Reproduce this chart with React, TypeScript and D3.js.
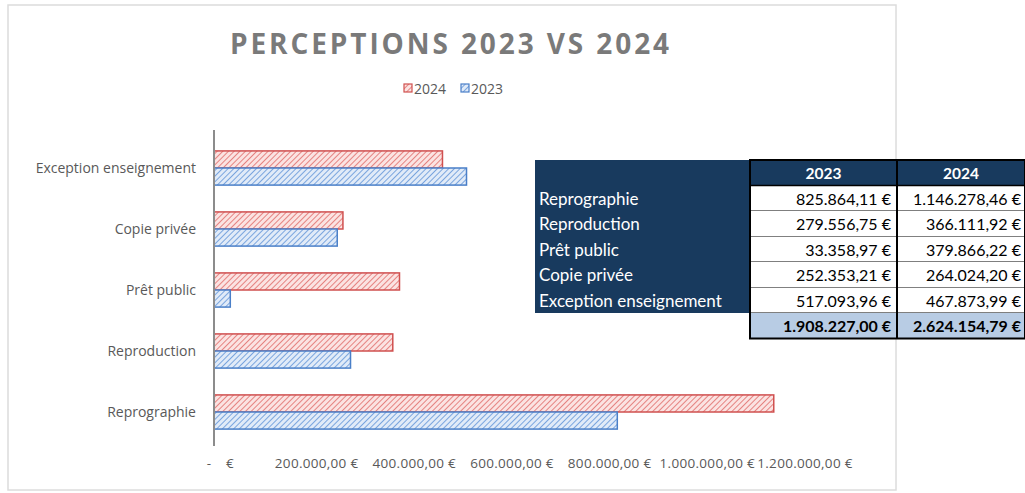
import * as d3 from "d3";

const categories = ["Exception enseignement", "Copie privée", "Prêt public", "Reproduction", "Reprographie"];
const values2024 = [467873.99, 264024.2, 379866.22, 366111.92, 1146278.46];
const values2023 = [517093.96, 252353.21, 33358.97, 279556.75, 825864.11];
const tickValues = [0, 200000, 400000, 600000, 800000, 1000000, 1200000];
// table rows are in the other order
const tableRows = ["Reprographie", "Reproduction", "Prêt public", "Copie privée", "Exception enseignement"];
const tableYears = ["2023", "2024"];

const W = 1025;
const H = 493;

const locale = d3.formatLocale({
  decimal: ",",
  thousands: ".",
  grouping: [3],
  currency: ["", " €"],
});
const fmt = locale.format(",.2f");

const RED = "#d0504f";
const BLUE = "#4a7fc8";
const NAVY = "#183a5e";
const GREY = "#595959";

export default function App() {
  const x = d3.scaleLinear().domain([0, 1200000]).range([214, 800]);
  const y = d3.scaleBand().domain(categories).range([137.5, 442.5]).paddingInner(0.44).paddingOuter(0.22);
  const half = y.bandwidth() / 2;

  // table geometry
  const tx0 = 535, tc1 = 750, tc2 = 897, tx1 = 1025;
  const ty0 = 160, rowH = 25.5;
  const byName = (name: string) => categories.indexOf(name);
  const totals = [d3.sum(values2023), d3.sum(values2024)];

  return (
    <svg width={W} height={H} style={{ position: "absolute", left: 0, top: 0, background: "#fff" }}>
      <defs>
        <pattern id="hatchRed" patternUnits="userSpaceOnUse" width="4" height="4" patternTransform="rotate(45)">
          <rect width="4" height="4" fill="#fbe3e2" />
          <line x1="0" y1="0" x2="0" y2="4" stroke="#e06a68" strokeWidth="1.6" />
        </pattern>
        <pattern id="hatchBlue" patternUnits="userSpaceOnUse" width="4" height="4" patternTransform="rotate(45)">
          <rect width="4" height="4" fill="#e1ebf8" />
          <line x1="0" y1="0" x2="0" y2="4" stroke="#5f93d8" strokeWidth="1.6" />
        </pattern>
      </defs>

      {/* chart frame */}
      <rect x={8} y={5} width={888} height={485} fill="#fff" stroke="#dcdcdc" strokeWidth={1.5} />

      <text x={451} y={54} textAnchor="middle" fontFamily="'Open Sans', sans-serif" fontWeight="bold"
        fontSize={28} letterSpacing={2.9} fill="#7a7a7a">PERCEPTIONS 2023 VS 2024</text>

      {/* legend */}
      <g fontFamily="'Open Sans', sans-serif" fontSize={14} fill={GREY}>
        <rect x={404} y={84} width={8} height={8} fill="url(#hatchRed)" stroke={RED} strokeWidth={1.2} />
        <text x={414} y={93.5}>2024</text>
        <rect x={461} y={84} width={8} height={8} fill="url(#hatchBlue)" stroke={BLUE} strokeWidth={1.2} />
        <text x={471} y={93.5}>2023</text>
      </g>

      {/* bars */}
      {categories.map((c, i) => (
        <g key={c}>
          <rect x={x(0)} y={y(c)!} width={x(values2024[i]) - x(0)} height={half}
            fill="url(#hatchRed)" stroke={RED} strokeWidth={1.5} />
          <rect x={x(0)} y={y(c)! + half} width={x(values2023[i]) - x(0)} height={half}
            fill="url(#hatchBlue)" stroke={BLUE} strokeWidth={1.5} />
          <text x={196} y={y(c)! + half + 5} textAnchor="end" fontFamily="'Open Sans', sans-serif"
            fontSize={14} fill={GREY}>{c}</text>
        </g>
      ))}
      <line x1={x(0)} x2={x(0)} y1={130} y2={446} stroke="#8c8c8c" strokeWidth={2} />

      {/* x ticks */}
      <g fontFamily="'Open Sans', sans-serif" fontSize={13.5} fill={GREY} letterSpacing={0.3}>
        {tickValues.map((t) =>
          t === 0 ? (
            <g key={t}>
              <text x={x(t) - 5} y={468} textAnchor="middle">-</text>
              <text x={x(t) + 16} y={468} textAnchor="middle">€</text>
            </g>
          ) : (
            <text key={t} x={x(t) + 5} y={468} textAnchor="middle">{fmt(t)} €</text>
          )
        )}
      </g>

      {/* table */}
      <g fontFamily="Lato, sans-serif" fontSize={16}>
        <rect x={tx0} y={ty0} width={tc1 - tx0} height={rowH * 6} fill={NAVY} />
        <rect x={tc1} y={ty0} width={tx1 - tc1} height={rowH} fill={NAVY} />
        {tableYears.map((yr, j) => (
          <text key={yr} x={j === 0 ? (tc1 + tc2) / 2 : (tc2 + tx1) / 2} y={ty0 + 19} textAnchor="middle"
            fill="#fff" fontWeight="bold" fontSize={15.5}>{yr}</text>
        ))}
        {tableRows.map((r, k) => {
          const i = byName(r);
          const ry = ty0 + rowH * (k + 1);
          return (
            <g key={r}>
              <rect x={tc1} y={ry} width={tx1 - tc1} height={rowH} fill="#fff" />
              <text x={539} y={ry + 19} fill="#fff" fontSize={17}>{r}</text>
              <text x={tc2 - 6} y={ry + 19} textAnchor="end" fill="#000">{fmt(values2023[i])} €</text>
              <text x={tx1 - 4} y={ry + 19} textAnchor="end" fill="#000">{fmt(values2024[i])} €</text>
              <line x1={tc1} x2={tx1} y1={ry + rowH} y2={ry + rowH} stroke="#000" strokeWidth={1.2} />
            </g>
          );
        })}
        <rect x={tc1} y={ty0 + rowH * 6} width={tx1 - tc1} height={rowH} fill="#b8cce4" />
        {totals.map((t, j) => (
          <text key={j} x={j === 0 ? tc2 - 6 : tx1 - 4} y={ty0 + rowH * 6 + 19} textAnchor="end"
            fontWeight="bold" fill="#000">{fmt(t)} €</text>
        ))}
        <rect x={tc1} y={ty0} width={tx1 - tc1} height={rowH * 7} fill="none" stroke="#000" strokeWidth={2} />
        <line x1={tc2} x2={tc2} y1={ty0} y2={ty0 + rowH * 7} stroke="#000" strokeWidth={2} />
        <line x1={tc1} x2={tx1} y1={ty0 + rowH} y2={ty0 + rowH} stroke="#000" strokeWidth={1.5} />
      </g>
    </svg>
  );
}
